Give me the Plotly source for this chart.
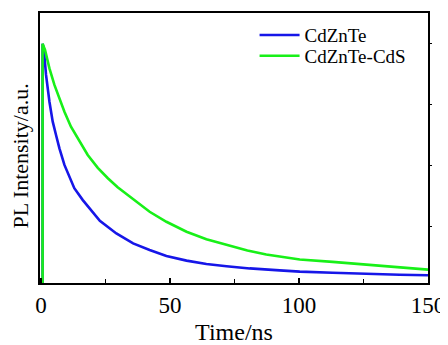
import plotly.graph_objects as go

# Time (ns) and normalized PL intensity
t_czt = [0.6, 0.6, 1.05, 1.94, 3.26, 4.53, 5.81, 7.13, 9.07, 11.0, 12.9, 16.2, 19.4, 22.8,
         29.2, 35.7, 42.1, 48.6, 56.4, 64.1, 71.9, 80.9, 92.5, 100.3, 113.0, 126.0, 139.0, 150.0]
i_czt = [-0.1, 1.0, 0.983, 0.872, 0.762, 0.680, 0.625, 0.570, 0.502, 0.455, 0.406, 0.357, 0.318, 0.272,
         0.220, 0.179, 0.152, 0.127, 0.108, 0.094, 0.085, 0.076, 0.068, 0.063, 0.058, 0.053, 0.050, 0.048]

t_cds = [0.6, 0.6, 1.55, 3.26, 5.19, 7.13, 9.07, 11.6, 14.9, 18.1, 22.0, 25.9, 29.7, 33.6, 36.8,
         42.1, 48.6, 56.4, 64.1, 71.9, 80.0, 87.3, 92.5, 100.3, 113.0, 126.0, 139.0, 150.0]
i_cds = [-0.1, 1.0, 0.975, 0.899, 0.831, 0.776, 0.721, 0.659, 0.597, 0.543, 0.490, 0.447, 0.410, 0.378, 0.355,
         0.309, 0.268, 0.227, 0.196, 0.172, 0.150, 0.133, 0.125, 0.113, 0.103, 0.091, 0.082, 0.071]

names = ["CdZnTe", "CdZnTe-CdS"]
colors = ["#1616e8", "#18f018"]
y_ticks = [0.25, 0.5, 0.75, 1.0]

font = "Liberation Serif, Times New Roman, serif"
fig = go.Figure()
for t, i, n, c, lg in [(t_czt, i_czt, names[0], colors[0], "legend"),
                       (t_cds, i_cds, names[1], colors[1], "legend2")]:
    fig.add_trace(go.Scatter(x=t, y=i, mode="lines", name=n, legend=lg,
                             line=dict(color=c, width=2.6)))
# right-hand axis carrying the outside ticks
fig.add_trace(go.Scatter(x=[None], y=[None], yaxis="y2", showlegend=False, hoverinfo="skip"))

leg_common = dict(xanchor="left", yanchor="middle", bgcolor="rgba(0,0,0,0)",
                  font=dict(size=19, family=font), itemwidth=40)

# the page body adds an 8px offset, so the figure is 440x337
fig.update_layout(
    width=440, height=337,
    margin=dict(l=32, r=20, t=5, b=62),
    paper_bgcolor="white", plot_bgcolor="white",
    font=dict(family=font, color="black"),
    showlegend=True,
    legend=dict(x=0.553, y=0.918, **leg_common),
    legend2=dict(x=0.553, y=0.841, **leg_common),
    xaxis=dict(range=[-0.4, 150], tickvals=[0, 50, 100, 150],
               ticks="inside", ticklen=5, tickwidth=1.5, tickcolor="black",
               minor=dict(tickvals=[25, 75, 125], ticks="inside", ticklen=4, tickwidth=1.2, tickcolor="black"),
               showline=True, linewidth=2, linecolor="black", mirror=True,
               showgrid=False, zeroline=False, automargin=False,
               tickfont=dict(size=23, family=font),
               title=dict(text="Time/ns", font=dict(size=24, family=font), standoff=22)),
    yaxis=dict(range=[0.016, 1.127], showticklabels=False, ticks="",
               showline=True, linewidth=2, linecolor="black", mirror=True,
               showgrid=False, zeroline=False, automargin=False),
    yaxis2=dict(range=[0.016, 1.127], overlaying="y", side="right", showticklabels=False,
                tickvals=y_ticks, ticks="outside", ticklen=3, tickwidth=1, tickcolor="black",
                showline=False, showgrid=False, zeroline=False, automargin=False),
    annotations=[dict(text="PL Intensity/a.u.", xref="paper", yref="paper",
                      x=-0.0515, y=0.4685, xanchor="center", yanchor="middle",
                      textangle=-90, showarrow=False, font=dict(size=22, family=font))],
)
fig.write_html("out.html")
